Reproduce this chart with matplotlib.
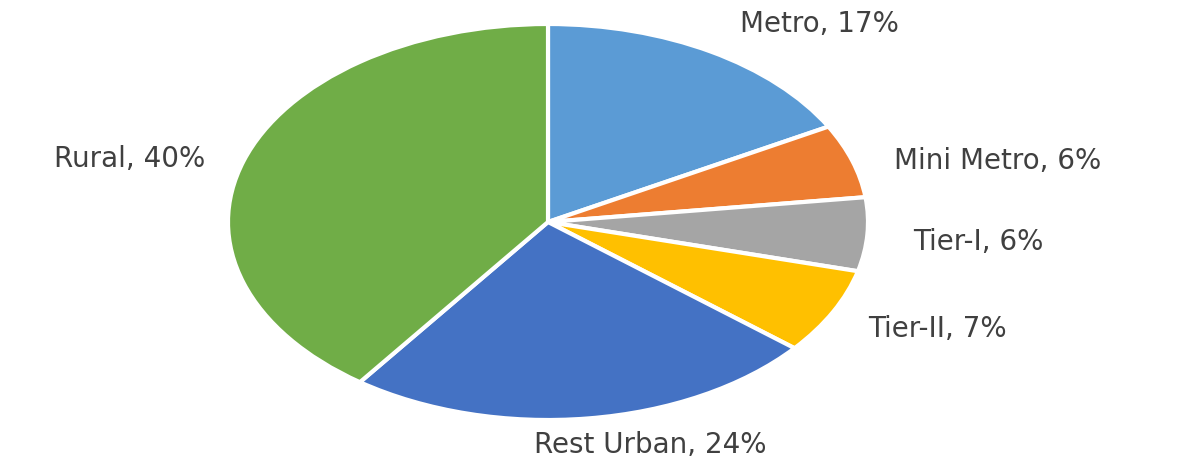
import matplotlib.pyplot as plt

# Share of users by town class
categories = ["Metro", "Mini Metro", "Tier-I", "Tier-II", "Rest Urban", "Rural"]
shares = [17, 6, 6, 7, 24, 40]
colors = ["#5B9BD5", "#ED7D31", "#A5A5A5", "#FFC000", "#4472C4", "#70AD47"]

# label anchor (x, y, horizontal alignment) in pie data units
label_pos = [
    (0.60, 1.00, "left"),
    (1.08, 0.31, "left"),
    (1.14, -0.10, "left"),
    (1.00, -0.54, "left"),
    (0.32, -1.125, "center"),
    (-1.07, 0.32, "right"),
]

fig = plt.figure(figsize=(11.86, 4.63), dpi=100)
W, H = 1186, 463
cx, cy, rx, ry = 548, 222, 320, 198
ax = fig.add_axes([(cx - rx) / W, (H - cy - ry) / H, 2 * rx / W, 2 * ry / H])

ax.pie(shares, colors=colors, startangle=90, counterclock=False,
       wedgeprops=dict(edgecolor="white", linewidth=3))
ax.set_aspect("auto")
ax.set_xlim(-1, 1)
ax.set_ylim(-1, 1)
ax.axis("off")

for name, val, (x, y, ha) in zip(categories, shares, label_pos):
    ax.text(x, y, f"{name}, {val}%", ha=ha, va="center", fontsize=20,
            family="DejaVu Sans", color="#404040", clip_on=False)

fig.savefig("out.png", dpi=100)
